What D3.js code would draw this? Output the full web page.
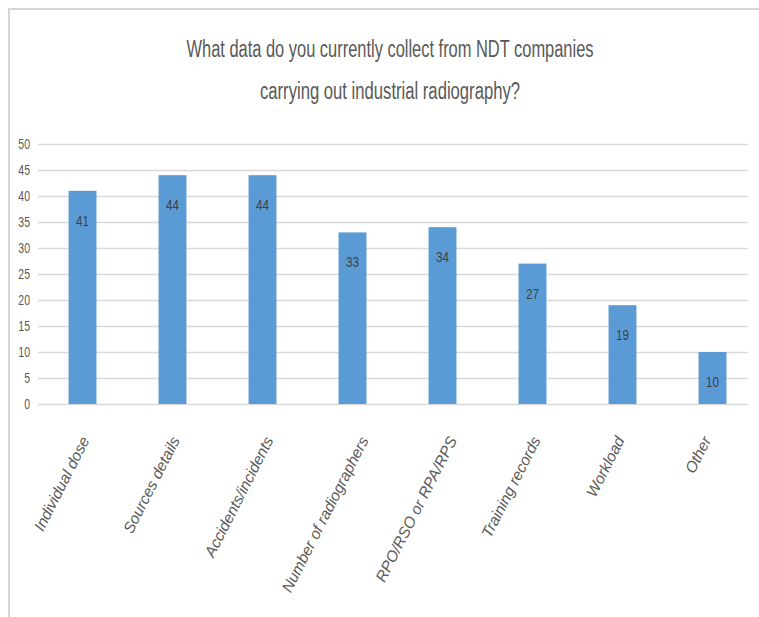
<!DOCTYPE html>
<html>
<head>
<meta charset="utf-8">
<script src="https://cdn.jsdelivr.net/npm/d3@7/dist/d3.min.js"></script>
<style>
  html, body { margin: 0; padding: 0; background: #ffffff; }
  svg { display: block; }
  text { font-family: "Liberation Sans", Arial, sans-serif; }
</style>
</head>
<body>
<svg id="chart" width="759" height="617"></svg>
<script>
// Survey responses per data category
const categories = [
  "Individual dose",
  "Sources details",
  "Accidents/incidents",
  "Number of radiographers",
  "RPO/RSO or RPA/RPS",
  "Training records",
  "Workload",
  "Other"
];
const counts = [41, 44, 44, 33, 34, 27, 19, 10];
const yTicks = [0, 5, 10, 15, 20, 25, 30, 35, 40, 45, 50];
const titleLines = [
  "What data do you currently collect from NDT companies",
  "carrying out industrial radiography?"
];

const W = 759, H = 617;
const plot = { left: 38, right: 748, top: 144, bottom: 404 };
const narrow = 0.75;   // horizontal squeeze applied to numeric text

const svg = d3.select("#chart");

// chart frame: top and left edges
svg.append("line").attr("x1", 8).attr("x2", W).attr("y1", 9).attr("y2", 9)
  .attr("stroke", "#d6d6d6").attr("stroke-width", 2);
svg.append("line").attr("x1", 9).attr("x2", 9).attr("y1", 8).attr("y2", H)
  .attr("stroke", "#d6d6d6").attr("stroke-width", 2);

// title, fitted to its line widths
const titleWidths = [407, 260];
svg.append("g")
  .selectAll("text").data(titleLines).join("text")
  .attr("x", 390)
  .attr("y", (d, i) => 57 + i * 42)
  .attr("text-anchor", "middle")
  .attr("font-size", 23)
  .attr("fill", "#595959")
  .attr("textLength", (d, i) => titleWidths[i])
  .attr("lengthAdjust", "spacingAndGlyphs")
  .text(d => d);

const x = d3.scaleBand().domain(categories).range([37.5, 757.5]).paddingInner(0.69).paddingOuter(0.345);
const y = d3.scaleLinear().domain([0, 50]).range([plot.bottom, plot.top]);

// horizontal gridlines
const yGrid = d3.axisLeft(y).tickValues(yTicks).tickSize(-(plot.right - plot.left)).tickFormat("");
const gg = svg.append("g").attr("transform", `translate(${plot.left},0)`).call(yGrid);
gg.select(".domain").remove();
gg.selectAll(".tick line").attr("stroke", "#d9d9d9").attr("stroke-width", 1.6);

// value-axis labels
svg.append("g").selectAll("text").data(yTicks).join("text")
  .attr("transform", d => `translate(30,${y(d) + 5}) scale(${narrow},1)`)
  .attr("text-anchor", "end")
  .attr("font-size", 14)
  .attr("fill", "#595959")
  .text(d => d);

// bars
svg.append("g").selectAll("rect").data(counts).join("rect")
  .attr("x", (d, i) => x(categories[i]))
  .attr("width", x.bandwidth())
  .attr("y", d => y(d))
  .attr("height", d => y(0) - y(d))
  .attr("fill", "#5b9bd5");

// value labels inside bar tops
svg.append("g").selectAll("text").data(counts).join("text")
  .attr("transform", (d, i) => `translate(${x(categories[i]) + x.bandwidth() / 2},${y(d) + 35}) scale(${narrow},1)`)
  .attr("text-anchor", "middle")
  .attr("font-size", 15.5)
  .attr("fill", "#404040")
  .text(d => d);

// rotated category labels, end-anchored under each bar
const cat = svg.append("g").selectAll("text").data(categories).join("text")
  .attr("text-anchor", "end")
  .attr("font-size", 15.5)
  .attr("font-style", "italic")
  .attr("fill", "#595959")
  .text(d => d);
cat.attr("transform", function (d) {
  const len = this.getComputedTextLength();
  const cx = x(d) + x.bandwidth() / 2 + 0.13 * len - 6;
  return `translate(${cx},${plot.bottom + 36}) rotate(-63)`;
});
</script>
</body>
</html>
